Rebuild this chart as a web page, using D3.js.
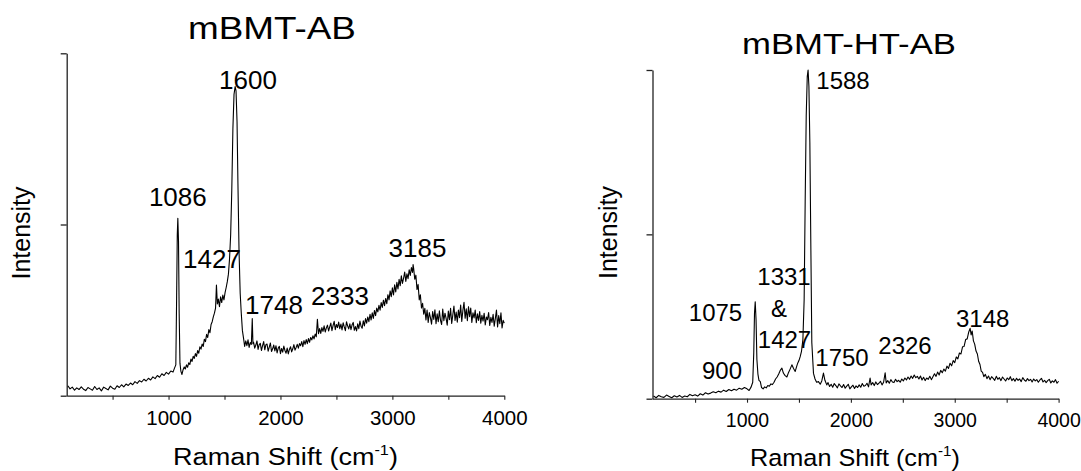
<!DOCTYPE html>
<html><head><meta charset="utf-8">
<script src="https://cdn.jsdelivr.net/npm/d3@7"></script>
<style>
html,body{margin:0;padding:0;background:#fff;}
svg{display:block;}
text{font-family:"Liberation Sans",Arial,Helvetica,sans-serif;fill:#000;}
</style></head>
<body><svg id="c" width="1081" height="471"></svg>
<script>
// ---------- DATA ----------
const xTickValues = [500,1000,1500,2000,2500,3000,3500,4000];
const xTickLabels = ["","1000","","2000","","3000","","4000"];
const titleAB = "mBMT-AB";
const titleHT = "mBMT-HT-AB";
const xAxisLabel = "Raman Shift (cm";
const xAxisSup = "-1";
const yAxisLabel = "Intensity";

// mBMT-AB spectrum: [Raman shift (cm-1), intensity (a.u., 0-100)]
const spectrumAB = [
[100,2.9],[120,2.0],[140,2.5],[160,1.6],[180,2.3],[200,1.8],[220,2.6],[240,1.9],[260,1.5],[280,2.4],
[300,2.0],[320,1.6],[340,2.7],[360,1.8],[380,2.3],[400,1.4],[420,2.5],[440,2.1],[460,1.7],[480,2.8],
[500,2.2],[520,1.9],[540,2.9],[560,2.4],[580,3.2],[600,2.6],[620,3.4],[640,3.0],[660,3.7],[680,3.2],
[700,4.1],[720,3.6],[740,4.4],[760,4.0],[780,4.8],[800,4.3],[820,5.1],[840,4.6],[860,5.5],[880,5.0],
[900,5.9],[920,5.4],[940,6.4],[960,5.9],[980,6.8],[1000,6.3],[1020,7.2],[1040,6.9],[1055,8.2],[1065,9.0],
[1072,28],[1078,47],[1083,51.8],[1089,45],[1095,24],[1102,9.5],
[1110,7.2],[1120,6.2],[1130,7.6],[1140,8.4],[1150,7.8],[1160,9.0],[1170,8.3],[1180,9.6],[1190,9.1],[1200,10.7],
[1210,10.0],[1220,11.5],[1230,10.9],[1240,12.3],[1250,11.5],[1260,13.2],[1270,12.4],[1280,14.3],[1290,13.6],[1300,15.1],
[1310,14.4],[1320,16.5],[1330,15.8],[1340,17.9],[1350,17.0],[1360,19.3],[1370,18.4],[1380,20.8],[1390,21.6],[1400,23.0],
[1410,24.1],[1420,25.6],[1428,32.3],[1436,26.8],[1445,28.2],[1455,26.0],[1465,28.9],[1475,27.2],[1485,29.4],[1495,28.0],
[1505,30.1],[1515,31.6],[1525,33.3],[1535,35.5],[1545,40.0],[1555,47.0],[1565,60.0],[1575,78.0],[1585,88.0],[1595,90.3],
[1603,89.0],[1612,80.0],[1620,62.0],[1630,42.0],[1640,30.0],[1650,24.0],[1660,19.0],[1670,16.8],[1680,14.4],[1690,16.0],
[1700,14.6],[1710,16.3],[1720,14.1],[1730,15.5],[1740,15.0],[1748,22.5],[1754,15.2],
[1760,15.6],[1770,13.9],[1780,14.8],[1790,16.0],[1800,13.5],[1810,14.9],[1820,15.3],[1830,13.2],[1840,14.6],[1850,15.8],
[1860,13.4],[1870,14.9],[1880,15.1],[1890,13.0],[1900,14.2],[1910,15.4],[1920,12.9],[1930,13.7],[1940,14.8],[1950,13.1],
[1960,14.6],[1970,12.5],[1980,13.9],[1990,14.4],[2000,12.3],[2010,13.8],[2020,12.7],[2030,14.5],[2040,13.2],[2050,12.4],
[2060,13.9],[2070,12.2],[2080,13.5],[2090,14.3],[2100,12.8],[2110,13.7],[2120,14.9],[2130,13.3],[2140,14.1],[2150,15.0],
[2160,13.9],[2170,15.2],[2180,14.6],[2190,15.8],[2200,14.3],[2210,16.1],[2220,15.0],[2230,16.4],[2240,15.2],[2250,16.7],
[2260,15.6],[2270,17.0],[2280,16.3],[2290,17.5],[2300,16.6],[2310,18.0],[2320,17.2],[2330,22.3],[2340,18.1],
[2350,19.6],[2360,18.2],[2370,19.9],[2380,18.8],[2390,20.4],[2400,18.6],[2410,19.8],[2420,20.6],[2430,18.9],[2440,20.1],
[2450,21.2],[2460,19.0],[2470,20.5],[2480,21.7],[2490,19.3],[2500,20.8],[2510,19.9],[2520,21.5],[2530,19.6],[2540,20.9],
[2550,19.2],[2560,21.3],[2570,20.1],[2580,19.0],[2590,21.6],[2600,20.4],[2610,19.5],[2620,21.0],[2630,19.3],[2640,20.7],
[2650,21.4],[2660,19.1],[2670,20.2],[2680,18.9],[2690,21.0],[2700,19.6],[2710,21.8],[2720,20.3],[2730,19.7],[2740,21.9],
[2750,20.4],[2760,22.5],[2770,21.2],[2780,23.0],[2790,21.6],[2800,23.8],[2810,22.1],[2820,24.2],[2830,22.6],[2840,24.9],
[2850,23.4],[2860,25.6],[2870,24.5],[2880,26.4],[2890,25.0],[2900,27.2],[2910,25.8],[2920,27.9],[2930,26.3],[2940,28.4],
[2950,26.9],[2960,29.5],[2970,28.0],[2980,30.6],[2990,28.9],[3000,31.5],[3010,29.4],[3020,32.4],[3030,30.3],[3040,33.1],
[3050,31.2],[3060,34.0],[3070,32.1],[3080,35.0],[3090,32.8],[3100,34.3],[3110,36.1],[3120,33.4],[3130,35.6],[3140,34.2],
[3150,36.8],[3160,35.1],[3170,37.4],[3180,36.0],[3185,38.3],
[3190,37.2],[3200,34.0],[3210,35.2],[3220,31.0],[3230,32.5],[3240,28.0],[3250,29.5],[3260,25.6],[3270,27.0],[3280,23.8],[3290,25.5],
[3300,22.1],[3310,25.0],[3320,21.4],[3330,24.3],[3340,22.8],[3350,20.9],[3360,24.6],[3370,22.3],[3380,25.1],[3390,21.0],
[3400,23.9],[3410,21.6],[3420,24.8],[3430,22.0],[3440,20.8],[3450,25.3],[3460,21.9],[3470,24.1],[3480,22.6],[3490,20.6],
[3500,24.7],[3510,22.2],[3520,25.5],[3530,21.1],[3540,23.6],[3550,26.2],[3560,22.0],[3570,24.4],[3580,21.5],[3590,25.0],
[3600,22.8],[3610,26.5],[3620,21.7],[3630,24.9],[3640,27.3],[3650,22.6],[3660,25.4],[3670,21.9],[3680,26.0],[3690,23.1],
[3700,25.6],[3710,21.4],[3720,24.2],[3730,22.7],[3740,25.0],[3750,21.3],[3760,23.9],[3770,22.0],[3780,24.6],[3790,21.2],
[3800,23.5],[3810,21.8],[3820,24.1],[3830,20.7],[3840,23.0],[3850,22.2],[3860,24.3],[3870,20.5],[3880,22.9],[3890,21.4],
[3900,23.8],[3910,20.3],[3920,22.6],[3930,25.0],[3940,20.1],[3950,23.4],[3960,21.0],[3970,24.2],[3980,19.8],[3990,22.0],
[4000,21.2]
];

// mBMT-HT-AB spectrum
const spectrumHT = [
[100,0.8],[125,0.3],[150,1.0],[175,0.6],[200,0.4],[225,1.1],[250,0.7],[275,0.3],[300,0.9],[325,0.5],
[350,1.0],[375,0.4],[400,0.8],[425,0.6],[450,1.3],[475,0.9],[500,1.2],[525,0.8],[550,1.5],[575,1.1],
[600,1.8],[625,1.4],[650,1.7],[675,2.1],[700,1.8],[725,2.3],[750,2.0],[775,2.6],[800,2.2],[825,2.8],
[850,2.4],[875,2.9],[900,2.6],[925,3.2],[950,2.9],[975,3.4],[1000,3.0],[1020,2.5],[1040,3.6],[1055,5.0],
[1065,14],[1072,26],[1079,29.5],[1087,24],[1095,12],[1105,7.5],[1115,5.6],[1128,5.2],[1140,3.4],[1155,3.0],
[1170,3.6],[1185,3.3],[1200,4.0],[1215,3.8],[1230,4.5],[1245,4.3],[1260,5.0],[1275,6.0],[1290,6.6],[1305,7.5],
[1320,8.6],[1336,9.3],[1350,7.8],[1365,7.1],[1384,6.6],[1400,8.0],[1415,9.0],[1432,10.3],[1448,9.2],[1464,8.3],
[1476,9.6],[1488,10.8],[1500,11.6],[1512,12.8],[1525,14.5],[1538,18.0],[1550,30.0],[1560,60.0],[1570,86.0],[1580,98.0],
[1588,100.0],[1596,95.0],[1605,78.0],[1615,45.0],[1624,17.0],[1640,7.7],[1655,6.0],[1670,5.0],[1688,5.2],[1705,4.4],
[1720,5.4],[1736,7.8],[1750,5.6],[1768,4.2],
[1780,4.9],[1795,3.7],[1810,4.4],[1825,3.5],[1840,4.6],[1855,4.0],[1870,3.3],[1885,4.5],[1900,3.9],[1915,3.4],
[1930,4.3],[1945,3.2],[1960,3.8],[1975,4.4],[1990,3.0],[2005,3.6],[2020,4.1],[2035,3.1],[2050,3.9],[2065,3.4],
[2080,4.2],[2095,3.5],[2110,4.6],[2125,3.8],[2140,4.0],[2155,4.7],[2170,3.6],[2185,6.3],[2195,4.2],
[2210,4.9],[2225,4.0],[2240,5.1],[2255,4.3],[2270,4.7],[2285,5.3],[2300,4.2],[2315,5.0],[2330,7.9],[2340,4.8],
[2355,5.5],[2370,4.7],[2385,5.8],[2400,5.1],[2415,4.9],[2430,5.9],[2445,5.2],[2460,5.6],[2475,5.0],[2490,6.0],
[2505,5.4],[2520,6.3],[2535,5.7],[2550,6.6],[2565,5.9],[2580,6.9],[2595,6.2],[2610,7.2],[2625,6.4],[2640,6.8],
[2655,6.0],[2670,6.9],[2685,5.7],[2700,6.5],[2715,5.5],[2730,6.3],[2745,5.9],[2760,6.8],[2775,5.8],[2790,6.7],
[2805,7.6],[2820,6.8],[2835,8.1],[2850,7.2],[2865,8.6],[2880,7.9],[2895,9.0],[2910,8.4],[2925,9.9],[2940,9.2],
[2955,10.8],[2970,10.0],[2985,11.6],[3000,11.0],[3015,12.7],[3030,12.1],[3045,13.9],[3060,13.6],[3075,15.8],[3090,15.9],
[3105,18.0],[3120,18.2],[3135,20.3],[3148,21.4],[3158,19.4],[3168,20.6],[3180,17.6],[3192,16.6],[3205,14.5],[3218,13.6],
[3230,11.4],[3243,10.4],[3255,8.4],[3268,8.0],[3280,6.7],
[3295,7.4],[3310,6.1],[3325,6.9],[3340,5.8],[3355,6.7],[3370,6.2],[3385,5.6],[3400,6.8],[3415,5.9],[3430,6.4],
[3445,5.5],[3460,6.6],[3475,6.0],[3490,5.4],[3505,6.3],[3520,5.8],[3535,6.7],[3550,5.5],[3565,6.1],[3580,5.3],
[3595,6.2],[3610,5.6],[3625,6.0],[3640,5.2],[3655,6.4],[3670,5.7],[3685,5.3],[3700,6.1],[3715,5.5],[3730,5.9],
[3745,5.1],[3760,6.0],[3775,5.4],[3790,5.8],[3805,5.0],[3820,5.7],[3835,6.2],[3850,5.1],[3865,5.6],[3880,4.9],
[3895,5.5],[3910,5.9],[3925,4.8],[3940,5.4],[3955,5.0],[3970,5.8],[3985,4.7],[4000,5.3]
];

// peak annotation texts
const peakLabelsAB = ["1086","1427","1600","1748","2333","3185"];
const peakLabelsHT = ["900","1075","1331","&","1427","1588","1750","2326","3148"];

// ---------- LAYOUT ----------
const panels = [
  { data: spectrumAB, title: titleAB,
    xr: [66.7, 504.3], yr: [395.7, 53.3],
    titlePos: [272, 39, 168, 30.5], xlabPos: [285.5, 465, 225, 24.5], ylabPos: [30, 233], tickFont: 20.5, tickBase: 425,
    labels: peakLabelsAB, annFont: 26,
    annPos: [[177.8,205.7],[212,268.3],[248,89.3],[274,314.3],[340,305],[417.5,256.7]] },
  { data: spectrumHT, title: titleHT,
    xr: [652.5, 1058.6], yr: [398.7, 70],
    titlePos: [849, 53.5, 214, 30], xlabPos: [855, 466, 210, 23.5], ylabPos: [617, 232.5], tickFont: 19.5, tickBase: 427,
    labels: peakLabelsHT, annFont: 24,
    annPos: [[722,378.7],[715.5,321],[784,285],[779,316.7],[784.5,348.3],[843,89.3],[842,366],[905,354],[982.7,326.7]] }
];

const svg = d3.select("#c");

function stretchText(g, cx, y, targetW, size, build) {
  const t = g.append("text").attr("text-anchor","middle").attr("font-size", size);
  build(t);
  const w = t.node().getBBox().width;
  t.attr("transform", `translate(${cx},${y}) scale(${targetW/w},1)`);
  return t;
}

panels.forEach(p => {
  const g = svg.append("g");
  const x = d3.scaleLinear().domain([90, 4000]).range(p.xr);
  const y = d3.scaleLinear().domain([0, 100]).range(p.yr);

  // x axis
  const xa = d3.axisBottom(x).tickValues(xTickValues)
    .tickFormat((d,i) => xTickLabels[i]).tickSize(4).tickSizeOuter(0).tickPadding(8);
  const gx = g.append("g").attr("transform", `translate(0,${p.yr[0]})`).call(xa);
  gx.selectAll("text").attr("font-size", p.tickFont).attr("dy", null)
    .attr("y", p.tickBase - p.yr[0]).attr("fill","#000")
    .style("font-family",'"Liberation Sans",Arial,sans-serif');
  gx.select(".domain").attr("stroke","#222").attr("stroke-width",1.3);
  gx.selectAll(".tick line").attr("stroke","#222").attr("stroke-width",1.1);

  // y axis (unlabelled ticks)
  const ya = d3.axisLeft(y).tickValues([0,50,100]).tickFormat("").tickSize(6).tickSizeOuter(0);
  const gy = g.append("g").attr("transform", `translate(${p.xr[0]},0)`).call(ya);
  gy.select(".domain").attr("stroke","#222").attr("stroke-width",1.3);
  gy.selectAll(".tick line").attr("stroke","#222").attr("stroke-width",1.3);

  // spectrum
  g.append("path").datum(p.data)
    .attr("d", d3.line().x(d => x(d[0])).y(d => y(d[1])))
    .attr("fill","none").attr("stroke","#000").attr("stroke-width",1.1)
    .attr("stroke-linejoin","round");

  // peak annotations
  p.labels.forEach((lab,i) => {
    g.append("text").attr("x", p.annPos[i][0]).attr("y", p.annPos[i][1])
      .attr("text-anchor","middle").attr("font-size", p.annFont).text(lab);
  });

  // title
  stretchText(g, p.titlePos[0], p.titlePos[1], p.titlePos[2], p.titlePos[3], t => t.text(p.title));

  // x label with superscript
  stretchText(g, p.xlabPos[0], p.xlabPos[1], p.xlabPos[2], p.xlabPos[3], t => {
    t.append("tspan").text(xAxisLabel);
    t.append("tspan").attr("font-size", p.xlabPos[3]*0.6).attr("dy", -p.xlabPos[3]*0.42).text(xAxisSup);
    t.append("tspan").attr("dy", p.xlabPos[3]*0.42).text(")");
  });

  // y label
  g.append("text").attr("transform", `translate(${p.ylabPos[0]},${p.ylabPos[1]}) rotate(-90)`)
    .attr("text-anchor","middle").attr("font-size", 25).text(yAxisLabel);
});
</script></body></html>
